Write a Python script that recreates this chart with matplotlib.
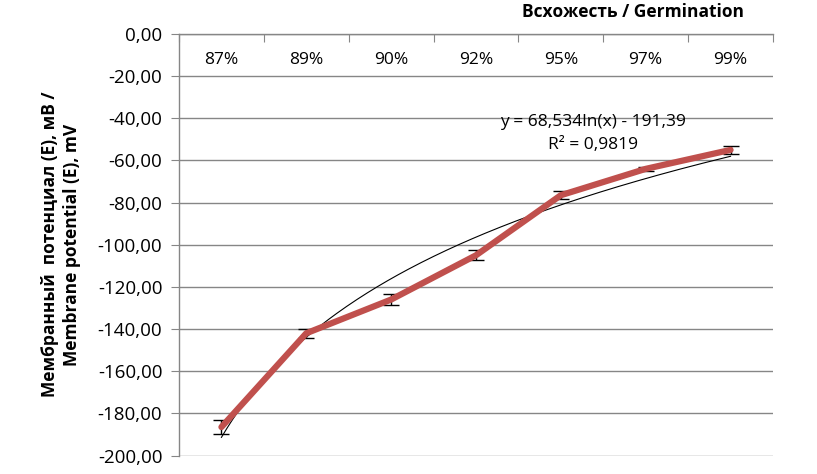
import matplotlib
matplotlib.use('Agg')
import matplotlib.pyplot as plt
import numpy as np

# data
categories = ['87%', '89%', '90%', '92%', '95%', '97%', '99%']
potential = [-186.5, -142.0, -126.0, -105.0, -76.5, -64.0, -55.0]
errors = [3.2, 2.2, 2.4, 2.4, 1.8, 1.0, 2.0]
trend_a = 68.534     # log trendline slope
trend_b = -191.39    # log trendline intercept
trend_r2 = 0.9819
yticks = list(range(-200, 1, 20))

plt.rcParams['font.family'] = ['Open Sans', 'DejaVu Sans']

fig = plt.figure(figsize=(8.17, 4.74), dpi=100)
ax = fig.add_axes([0.2191, 0.039, 0.7270, 0.8893])

x = np.arange(len(categories))

# gridlines
for v in yticks:
    ax.axhline(v, color='#868686', lw=1.0, zorder=0)

# trendline
xt = np.linspace(1, len(categories), 200)
ax.plot(xt - 1, trend_a * np.log(xt) + trend_b, color='black', lw=0.8, zorder=2)

# error bars + series
ax.errorbar(x, potential, yerr=errors, fmt='none', ecolor='black',
            elinewidth=1.0, capsize=6, capthick=1.0, zorder=3)
ax.plot(x, potential, color='#C0504D', lw=4.5, solid_capstyle='round',
        solid_joinstyle='round', zorder=4)

ax.set_xlim(-0.5, len(categories) - 0.5)
ax.set_ylim(-200, 0)

# axes styling
for s in ['bottom', 'right']:
    ax.spines[s].set_visible(False)
for s in ['top', 'left']:
    ax.spines[s].set_color('#868686')
    ax.spines[s].set_linewidth(1.0)

ax.xaxis.set_ticks_position('top')
ax.set_xticks(np.arange(-0.5, len(categories), 1.0))
ax.set_xticklabels([])
ax.tick_params(axis='x', direction='in', length=6, color='#868686')

ax.set_yticks(yticks)
ax.set_yticklabels([f'{v:.2f}'.replace('.', ',') for v in yticks],
                   fontsize=13.5)
ax.tick_params(axis='y', direction='out', length=6, color='#868686',
               pad=6)

for i, c in enumerate(categories):
    ax.text(i, -12.5, c, ha='center', va='center', fontsize=12.5)

ax.text(4.38, -41.8, f'y = {trend_a:.3f}ln(x) - {-trend_b:.2f}'.replace('.', ','),
        ha='center', va='center', fontsize=12.5)
ax.text(4.38, -52.7, f'R² = {trend_r2:.4f}'.replace('.', ','),
        ha='center', va='center', fontsize=12.5)

ax.set_ylabel('Мембранный  потенциал (E), мВ /\nMembrane potential (E), mV',
              fontsize=12.5, fontweight='bold', labelpad=12, linespacing=1.3)

fig.text(633 / 817, 1 - 12 / 474, 'Всхожесть / Germination', ha='center',
         va='center', fontsize=12.5, fontweight='bold')

fig.savefig('out.png', dpi=100)
